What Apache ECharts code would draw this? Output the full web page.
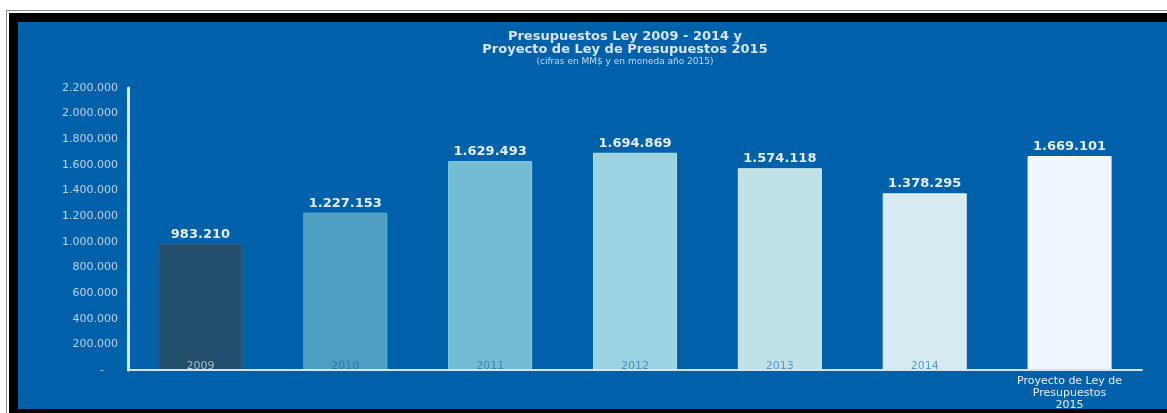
<!DOCTYPE html>
<html>
<head>
<meta charset="utf-8">
<script src="https://cdn.jsdelivr.net/npm/echarts@6/dist/echarts.min.js"></script>
<style>
  html, body { margin:0; padding:0; width:1167px; height:413px; background:#ffffff; overflow:hidden; }
  #frame1 { position:absolute; left:6px; top:10px; right:0; bottom:0; border-left:1px solid #8a8a8a; border-top:1px solid #8a8a8a; background:#ffffff; }
  #frame2 { position:absolute; left:9px; top:13px; right:0; bottom:0; background:#000000; }
  #plotbg { position:absolute; left:18px; top:22px; width:1149px; height:387px; background:#0061AB; }
  #chart { position:absolute; left:0; top:0; width:1167px; height:413px; }
</style>
</head>
<body>
<div id="frame1"></div>
<div id="frame2"></div>
<div id="plotbg"></div>
<div id="chart"></div>
<script>
const titleLines = ['Presupuestos Ley 2009 - 2014 y', 'Proyecto de Ley de Presupuestos 2015'];
const subtitle = '(cifras en MM$ y en moneda año 2015)';
const categories = ['2009', '2010', '2011', '2012', '2013', '2014', 'Proyecto de Ley de\nPresupuestos\n2015'];
const values = [983210, 1227153, 1629493, 1694869, 1574118, 1378295, 1669101];
const barColors = ['#234E6C', '#4E9EC1', '#73BCD4', '#9AD3E1', '#C0E2E7', '#D5EBF1', '#EEF6FD'];
const barBorders = ['#2F5C7D', '#6AAFCC', '#8CCBDF', '#B5E0EA', '#D5EEF0', '#E6F3F6', '#FFFFFF'];
const catLabelColors = ['#A9BED0', '#2F76AE', '#3A82B8', '#4A8EC2', '#5A97C6', '#5C98C7', '#E4EDF6'];

function fmt(v) {
  if (v === 0) return '-    ';
  return String(Math.round(v)).replace(/\B(?=(\d{3})+(?!\d))/g, '.');
}

const chart = echarts.init(document.getElementById('chart'), null, { renderer: 'canvas' });

const xData = categories.map((c, i) => {
  const item = { value: c, textStyle: { color: catLabelColors[i] } };
  if (i === categories.length - 1) {
    item.textStyle = { color: '#E4EDF6', padding: [14, 0, 0, 0], lineHeight: 12, fontSize: 11 };
  }
  return item;
});

const option = {
  backgroundColor: 'transparent',
  animation: false,
  graphic: [
    { type: 'text', x: 625, y: 37, style: { text: titleLines[0], fill: '#D6E4F1', font: 'bold 13px "DejaVu Sans"', textAlign: 'center', textVerticalAlign: 'middle' } },
    { type: 'text', x: 625, y: 50, style: { text: titleLines[1], fill: '#D6E4F1', font: 'bold 13px "DejaVu Sans"', textAlign: 'center', textVerticalAlign: 'middle' } },
    { type: 'text', x: 625, y: 62, style: { text: subtitle, fill: '#C6D9EC', font: '9px "DejaVu Sans"', textAlign: 'center', textVerticalAlign: 'middle' } }
  ],
  grid: { left: 128, right: 25, top: 88, bottom: 43, containLabel: false },
  xAxis: {
    type: 'category',
    data: xData,
    axisLine: { show: true, lineStyle: { color: '#D3E4F2', width: 2 } },
    axisTick: { show: false },
    axisLabel: {
      interval: 0,
      margin: -9,
      fontFamily: 'DejaVu Sans',
      fontSize: 11
    },
    z: 10
  },
  yAxis: {
    type: 'value',
    min: 0,
    max: 2200000,
    interval: 200000,
    axisLine: { show: true, lineStyle: { color: '#DCEAF5', width: 3 } },
    axisTick: { show: false },
    splitLine: { show: false },
    axisLabel: {
      margin: 10,
      color: '#BCD2E8',
      fontFamily: 'DejaVu Sans',
      fontSize: 11,
      formatter: fmt
    }
  },
  series: [{
    type: 'bar',
    data: values.map((v, i) => ({
      value: v,
      itemStyle: { color: barColors[i], borderColor: barBorders[i], borderWidth: 1 }
    })),
    barWidth: 84,
    label: {
      show: true,
      position: 'top',
      distance: 3,
      color: '#E4EDF6',
      fontFamily: 'DejaVu Sans',
      fontWeight: 'bold',
      fontSize: 13,
      formatter: p => fmt(p.value)
    },
    z: 2
  }]
};
chart.setOption(option);
</script>
</body>
</html>
